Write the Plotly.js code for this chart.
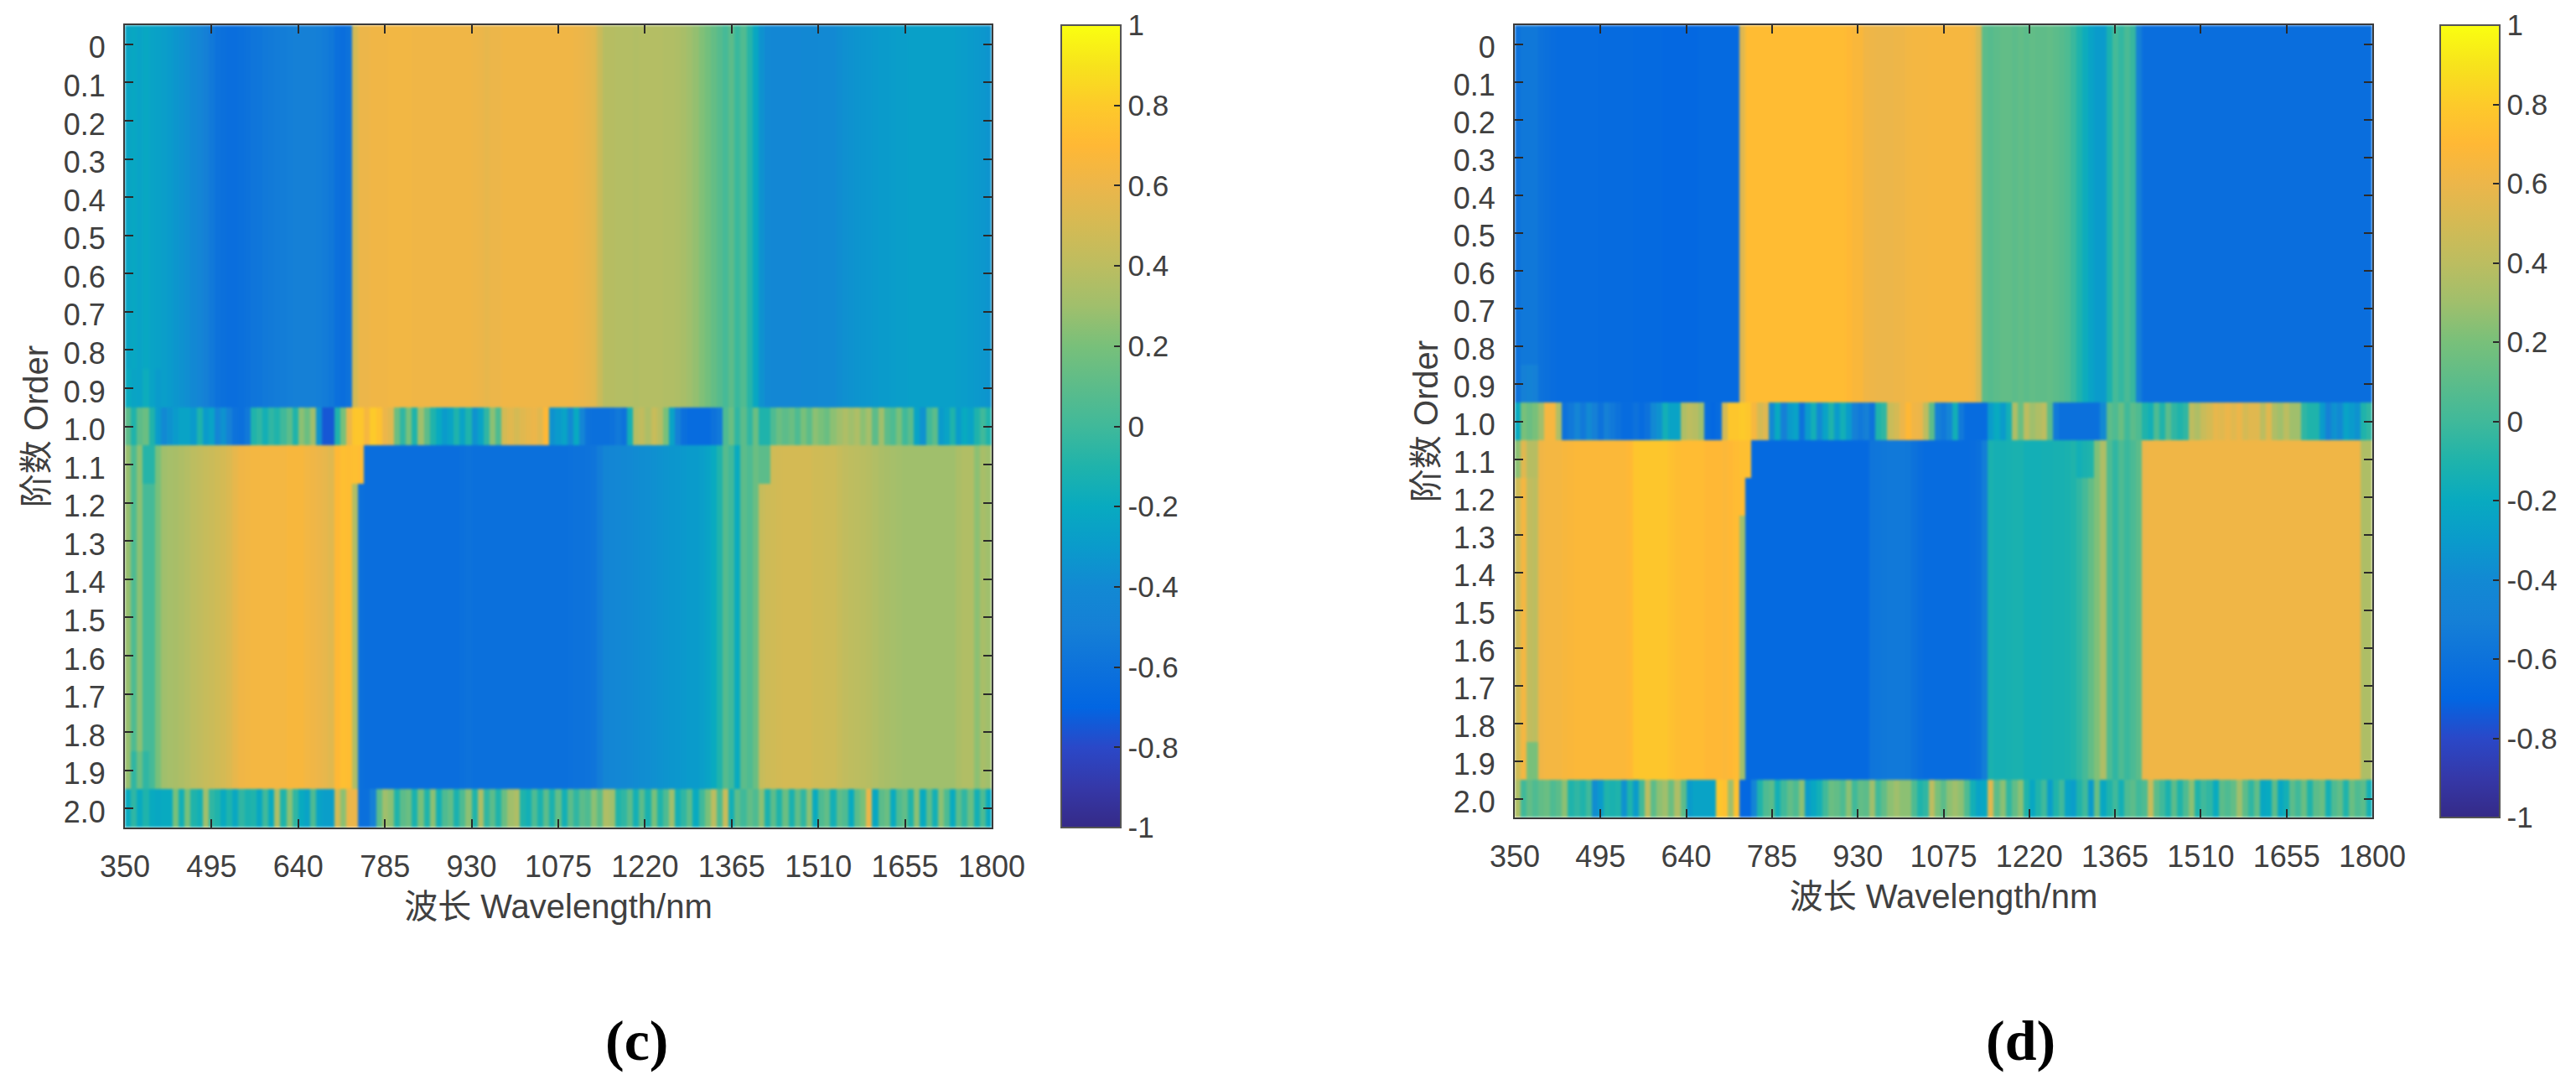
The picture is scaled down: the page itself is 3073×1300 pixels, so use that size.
<!DOCTYPE html>
<html>
<head>
<meta charset="utf-8">
<script src="https://cdn.plot.ly/plotly-3.0.1.min.js"></script>
<style>html,body{margin:0;padding:0;background:#fff}#chart{width:3073px;height:1300px}
.heatmaplayer image{filter:blur(1.6px)}</style>
</head>
<body>
<div id="chart"></div>
<script>
// Wavelength columns (centre of each 10 nm column) and fractional orders
const wavelengths = [355,365,375,385,395,405,415,425,435,445,455,465,475,485,495,505,515,525,535,545,555,565,575,585,595,605,615,625,635,645,655,665,675,685,695,705,715,725,735,745,755,765,775,785,795,805,815,825,835,845,855,865,875,885,895,905,915,925,935,945,955,965,975,985,995,1005,1015,1025,1035,1045,1055,1065,1075,1085,1095,1105,1115,1125,1135,1145,1155,1165,1175,1185,1195,1205,1215,1225,1235,1245,1255,1265,1275,1285,1295,1305,1315,1325,1335,1345,1355,1365,1375,1385,1395,1405,1415,1425,1435,1445,1455,1465,1475,1485,1495,1505,1515,1525,1535,1545,1555,1565,1575,1585,1595,1605,1615,1625,1635,1645,1655,1665,1675,1685,1695,1705,1715,1725,1735,1745,1755,1765,1775,1785,1795];
const orders = [0,0.1,0.2,0.3,0.4,0.5,0.6,0.7,0.8,0.9,1.0,1.1,1.2,1.3,1.4,1.5,1.6,1.7,1.8,1.9,2.0];
const orderLabels = ['0','0.1','0.2','0.3','0.4','0.5','0.6','0.7','0.8','0.9','1.0','1.1','1.2','1.3','1.4','1.5','1.6','1.7','1.8','1.9','2.0'];
const xTicks = [350,495,640,785,930,1075,1220,1365,1510,1655,1800];
const cbarTicks = [-1,-0.8,-0.6,-0.4,-0.2,0,0.2,0.4,0.6,0.8,1];
const cbarLabels = ['-1','-0.8','-0.6','-0.4','-0.2','0','0.2','0.4','0.6','0.8','1'];

// Panel (c): correlation
const cBelowOne = [
-.24,-.22,-.25,-.22,-.25,-.26,-.28,-.3,-.33,-.35,
-.37,-.41,-.45,-.5,-.55,-.6,-.62,-.63,-.63,-.62,
-.6,-.58,-.57,-.55,-.54,-.53,-.52,-.51,-.5,-.5,
-.5,-.5,-.51,-.53,-.56,-.62,-.63,-.6,.5,.6,
.6,.62,.62,.62,.63,.63,.63,.63,.62,.62,
.62,.62,.62,.62,.62,.62,.62,.62,.61,.6,
.58,.6,.6,.62,.62,.62,.62,.62,.62,.62,
.62,.62,.62,.62,.62,.61,.6,.58,.56,.46,
.38,.38,.37,.37,.37,.36,.37,.37,.37,.37,
.36,.36,.35,.33,.3,.27,.22,.18,.13,.08,
.02,.1,-.02,.06,-.08,-.22,-.35,-.4,-.42,-.42,
-.42,-.42,-.42,-.41,-.41,-.41,-.4,-.4,-.4,-.38,
-.36,-.35,-.34,-.33,-.32,-.31,-.3,-.3,-.29,-.28,
-.28,-.27,-.27,-.27,-.27,-.27,-.27,-.27,-.27,-.28,
-.29,-.3,-.31,-.32,-.34];
const cAtOne = [
.1,-.1,.1,.15,-.1,-.3,-.4,-.35,-.3,-.25,
-.25,-.3,-.1,-.3,-.25,-.45,-.35,-.5,-.6,-.62,
-.55,-.1,-.05,-.15,-.05,-.1,0,.1,-.1,.25,
.15,.3,-.35,-.75,-.75,-.1,.2,.6,.78,.78,
.65,.8,.75,.6,.55,.15,-.05,.2,-.1,.3,
.1,-.1,-.2,-.3,-.25,-.1,-.25,-.1,-.35,-.25,
-.05,.25,.05,.5,.55,.5,.55,.58,.6,.55,
.7,-.35,-.3,-.25,-.4,-.2,-.45,-.6,-.62,-.62,
-.62,-.6,-.55,-.6,-.15,.38,.42,.35,.45,.38,
.2,-.25,-.5,-.62,-.65,-.65,-.65,-.65,-.6,-.55,
.05,.15,-.05,.1,-.05,.15,-.1,-.1,.05,.15,
.1,.15,.05,.2,.1,.25,.2,.15,.25,.3,
.35,.3,.35,.25,.32,.1,.3,.1,.05,.2,
0,.1,-.25,-.35,0,.1,-.3,-.25,-.1,-.3,
-.2,-.25,-.1,0,-.1];
const cAboveOne = [
.28,.05,.25,.02,.02,.2,.3,.32,.33,.35,
.37,.4,.42,.44,.46,.48,.5,.53,.58,.62,
.63,.64,.64,.64,.64,.64,.64,.66,.66,.66,
.63,.62,.6,.58,.55,.7,.74,.73,.35,-.62,
-.63,-.63,-.63,-.63,-.63,-.63,-.63,-.63,-.63,-.63,
-.63,-.63,-.63,-.63,-.63,-.63,-.62,-.6,-.62,-.62,
-.62,-.62,-.62,-.62,-.62,-.62,-.62,-.62,-.62,-.62,
-.62,-.62,-.62,-.62,-.61,-.6,-.6,-.59,-.58,-.52,
-.44,-.43,-.42,-.41,-.4,-.39,-.38,-.37,-.36,-.35,
-.34,-.33,-.32,-.31,-.3,-.3,-.28,-.25,-.2,-.1,
.08,0,-.2,.1,.05,.15,.44,.47,.48,.49,
.5,.5,.5,.5,.5,.48,.48,.47,.47,.44,
.42,.41,.4,.39,.38,.36,.34,.33,.32,.31,
.3,.3,.3,.3,.3,.3,.3,.3,.3,.34,
.36,.36,.25,.33,.3];
const cAtTwo = [
-.2,-.05,-.2,-.1,-.2,-.22,-.2,-.2,.2,-.15,
.2,-.1,-.15,.3,-.05,-.1,-.2,-.1,-.22,-.05,
-.12,-.1,-.22,0,-.2,.35,-.1,.25,-.05,-.2,
-.25,.05,-.25,-.28,-.28,.5,.25,.6,.6,-.62,
-.62,-.5,.1,.3,.25,-.1,.1,.15,-.12,.2,
-.1,.25,-.15,.05,.12,-.12,.05,.25,-.1,.35,
-.05,.1,-.1,.15,.3,.35,-.1,-.15,.05,-.12,
.1,-.12,.12,-.15,.1,-.05,.1,.05,.25,.1,
.35,.3,-.1,-.05,.1,-.15,.1,-.12,.2,-.1,
.05,.3,-.15,-.05,.1,-.2,0,.2,.4,.05,
.45,-.15,.1,0,.12,.05,.25,-.12,.1,-.1,
.15,-.12,.12,-.05,.25,-.2,.05,.12,-.15,.1,
.05,-.2,.1,.2,.6,-.22,.1,.15,-.2,.05,
.12,-.1,.25,-.2,.1,-.15,.25,.05,-.2,.1,
-.05,.15,-.15,.05,-.2];

// Panel (d)
const dBelowOne = [
-.6,-.56,-.56,-.56,-.6,-.62,-.64,-.65,-.65,-.65,
-.65,-.65,-.65,-.65,-.66,-.66,-.66,-.66,-.66,-.66,
-.67,-.67,-.67,-.67,-.67,-.68,-.68,-.68,-.68,-.68,
-.68,-.67,-.67,-.67,-.67,-.67,-.67,-.67,.55,.72,
.72,.72,.72,.72,.72,.72,.72,.72,.72,.72,
.72,.72,.72,.72,.72,.72,.7,.67,.67,.62,
.61,.6,.6,.6,.61,.61,.63,.64,.64,.64,
.65,.65,.65,.65,.65,.65,.65,.63,.52,.1,
.08,.1,.12,.12,.1,.12,.1,.12,.11,.11,
.12,.1,.08,.05,-.02,-.1,-.18,-.25,-.3,-.3,
-.12,.02,-.04,.04,-.03,-.5,-.63,-.63,-.63,-.63,
-.63,-.63,-.63,-.63,-.63,-.63,-.63,-.63,-.63,-.63,
-.63,-.63,-.63,-.63,-.63,-.63,-.63,-.63,-.63,-.63,
-.63,-.63,-.63,-.63,-.63,-.63,-.63,-.63,-.63,-.63,
-.63,-.63,-.63,-.63,-.63];
const dAtOne = [
-.2,.2,.15,.2,.3,.65,.65,.35,-.6,-.55,
-.45,-.55,-.4,-.5,-.6,-.5,-.55,-.6,-.65,-.65,
-.6,-.65,-.6,-.4,-.35,-.15,-.25,-.25,.35,.4,
.38,.3,-.65,-.68,-.65,.5,.78,.78,.8,.78,
.65,.5,.55,-.4,-.2,-.5,-.3,-.25,-.6,-.3,
-.15,-.4,-.25,-.1,-.3,-.15,-.3,-.5,-.55,-.5,
-.6,-.1,-.05,.45,.5,.6,.7,.62,.6,.4,
.1,-.5,-.55,-.45,-.15,-.55,-.65,-.65,-.65,-.65,
-.3,-.2,-.3,-.15,.35,.15,.4,.3,.35,.4,
.1,-.55,-.62,-.62,-.62,-.62,-.62,-.62,-.62,-.4,
.1,.05,.15,0,.1,.05,-.1,-.15,.05,-.1,
.1,-.05,-.1,-.05,.4,.35,.45,.5,.58,.55,
.6,.55,.6,.5,.55,.55,.4,.55,.35,.3,
.4,.3,.3,-.05,-.1,-.1,-.3,-.5,-.35,-.4,
-.25,-.3,-.35,-.1,-.05];
const dAboveOne = [
.48,.64,.42,.4,.62,.64,.64,.64,.66,.67,
.68,.68,.68,.68,.68,.68,.68,.68,.68,.7,
.77,.78,.78,.78,.78,.78,.75,.73,.72,.72,
.72,.72,.7,.7,.7,.68,.7,.72,.3,-.67,
-.67,-.67,-.67,-.67,-.67,-.67,-.67,-.67,-.67,-.67,
-.67,-.67,-.67,-.67,-.67,-.67,-.67,-.67,-.67,-.67,
-.58,-.57,-.56,-.55,-.55,-.55,-.56,-.6,-.63,-.65,
-.65,-.65,-.65,-.65,-.65,-.65,-.65,-.64,-.62,-.52,
-.12,-.14,-.14,-.13,-.12,-.12,-.15,-.15,-.15,-.14,
-.14,-.13,-.13,-.12,-.1,-.05,.02,.12,.22,.35,
.05,-.05,.05,-.02,.04,.1,.6,.62,.62,.62,
.62,.62,.62,.62,.62,.62,.62,.62,.62,.62,
.62,.62,.62,.62,.62,.62,.62,.62,.62,.62,
.62,.62,.62,.62,.62,.62,.62,.62,.62,.62,
.62,.62,.62,.35,.35];
const dAtTwo = [
.35,0,.12,.05,.12,.15,.05,.1,.25,-.1,
-.05,-.1,0,-.38,-.3,-.1,-.12,-.1,-.35,-.1,
-.3,0,.4,.1,.25,.3,.15,.35,.1,-.3,
-.25,-.25,-.25,-.25,.78,.75,.3,.75,-.68,-.68,
-.45,-.1,.05,.1,-.15,0,.12,.05,.25,-.3,
-.22,-.15,0,.15,.12,.05,.25,0,.12,.1,
.3,0,.12,.25,.3,.25,.25,.05,-.1,-.05,
.4,.2,.1,.25,.3,.25,.05,-.15,-.25,-.22,
.55,.1,.25,-.05,.12,.25,-.1,-.22,-.1,0,
-.28,-.1,0,-.25,-.28,-.1,0,-.3,.15,-.22,
-.1,0,-.15,.05,.1,0,.05,.45,.1,0,
-.12,.1,-.1,.05,.25,-.1,0,-.05,-.2,.1,
.05,.12,.3,.1,-.05,.12,-.22,-.2,.1,-.22,
-.15,.1,0,.15,-.1,.1,.15,-.15,.05,.12,
-.1,.15,.05,.1,-.15];

// Small per-row departures: [row index, column index, value]
const cRowEdits = [[9,0,-.2],[9,1,-.24],[9,3,-.18],[9,5,-.3],[11,38,.74],[11,39,.72],[11,3,-.08],[11,4,-.08],[11,106,.1],[11,107,.1],[19,1,-.05],[19,2,.15],[19,3,-.05]];
const dRowEdits = [[9,1,-.5],[9,2,-.48],[9,3,-.5],[11,0,.25],[11,1,.55],[11,2,.38],[11,3,.38],[11,38,.74],[11,39,.74],[11,95,-.15],[11,96,-.12],[11,97,-.1],[12,38,.72],[19,2,.2],[19,3,.2]];

const parula = [
[0,'#352a87'],[.05,'#3538a8'],[.1,'#2a48c8'],[.15,'#0266e2'],[.2,'#0d72db'],[.25,'#1580d6'],[.3,'#1289d3'],
[.35,'#0a9bcb'],[.4,'#08aac0'],[.45,'#1fb3ab'],[.5,'#40b99a'],[.55,'#5cbc8a'],[.6,'#78c07a'],[.65,'#a0bf6c'],
[.7,'#bcbd60'],[.75,'#d4ba54'],[.8,'#ecb64a'],[.85,'#ffb835'],[.9,'#fdca2a'],[.95,'#f7e31c'],[1,'#faff10']];

const W = 3073, H = 1300;
const textColor = '#404040', lineColor = '#3a3a3a', family = '"Liberation Sans","Noto Sans CJK SC",sans-serif';

function buildRows(below, one, above, two, edits) {
  const rows = orders.map((o, r) => {
    const src = r < 10 ? below : r === 10 ? one : r < 20 ? above : two;
    return src.slice();
  });
  edits.forEach(e => { rows[e[0]][e[1]] = e[2]; });
  return rows;
}

function heat(z, xa, ya, cbLeft, bottom, top) {
  return {
    type: 'heatmap', x: wavelengths, y: orders, z: z, xaxis: xa, yaxis: ya,
    zmin: -1, zmax: 1, colorscale: parula, hoverongaps: false,
    colorbar: {
      x: cbLeft / W, xanchor: 'left', xpad: 0, ypad: 0,
      y: 1 - bottom / H, yanchor: 'bottom', lenmode: 'pixels', len: bottom - top,
      thicknessmode: 'pixels', thickness: 71,
      tickmode: 'array', tickvals: cbarTicks, ticktext: cbarLabels,
      ticks: 'inside', ticklen: 9, tickwidth: 2, tickcolor: '#2a2a2a',
      tickfont: {family: family, size: 35, color: textColor},
      outlinecolor: '#555', outlinewidth: 2
    }
  };
}

function xAxis(left, right, anchor) {
  return {
    domain: [left / W, right / W], range: [350, 1800], anchor: anchor, mirror: 'ticks',
    showline: true, linecolor: lineColor, linewidth: 2, showgrid: false, zeroline: false,
    ticks: 'inside', ticklen: 10, tickwidth: 2, tickcolor: '#2a2a2a',
    tickmode: 'array', tickvals: xTicks, ticktext: xTicks.map(String), ticklabelstandoff: 14,
    tickfont: {family: family, size: 36, color: textColor},
    title: {text: '波长 Wavelength/nm', font: {family: family, size: 40, color: textColor}, standoff: 14}
  };
}
function yAxis(bottom, top, anchor) {
  return {
    domain: [1 - bottom / H, 1 - top / H], range: [2.05, -0.05], autorange: false, anchor: anchor, mirror: 'ticks',
    showline: true, linecolor: lineColor, linewidth: 2, showgrid: false, zeroline: false,
    ticks: 'inside', ticklen: 10, tickwidth: 2, tickcolor: '#2a2a2a',
    tickmode: 'array', tickvals: orders, ticktext: orderLabels, ticklabelstandoff: 14, ticklabelshift: -4,
    tickfont: {family: family, size: 36, color: textColor},
    title: {text: '阶数 Order', font: {family: family, size: 40, color: textColor}, standoff: 6}
  };
}

const data = [
  heat(buildRows(cBelowOne, cAtOne, cAboveOne, cAtTwo, cRowEdits), 'x', 'y', 1266, 987, 30),
  heat(buildRows(dBelowOne, dAtOne, dAboveOne, dAtTwo, dRowEdits), 'x2', 'y2', 2911, 975, 30)
];

const panelFont = {family: '"Liberation Serif",serif', size: 68, color: '#000'};
const layout = {
  width: W, height: H, margin: {l: 0, r: 0, t: 0, b: 0},
  paper_bgcolor: '#fff', plot_bgcolor: '#fff', showlegend: false,
  xaxis: xAxis(149, 1183, 'y'), yaxis: yAxis(987, 30, 'x'),
  xaxis2: xAxis(1807, 2830, 'y2'), yaxis2: yAxis(975, 30, 'x2'),
  annotations: [
    {text: '<b>(c)</b>', xref: 'paper', yref: 'paper', x: 759 / W, y: 1 - 1241 / H, xanchor: 'center', yanchor: 'middle', showarrow: false, font: panelFont},
    {text: '<b>(d)</b>', xref: 'paper', yref: 'paper', x: 2410 / W, y: 1 - 1241 / H, xanchor: 'center', yanchor: 'middle', showarrow: false, font: panelFont}
  ]
};
Plotly.newPlot('chart', data, layout, {displayModeBar: false, staticPlot: true});
</script>
</body>
</html>
